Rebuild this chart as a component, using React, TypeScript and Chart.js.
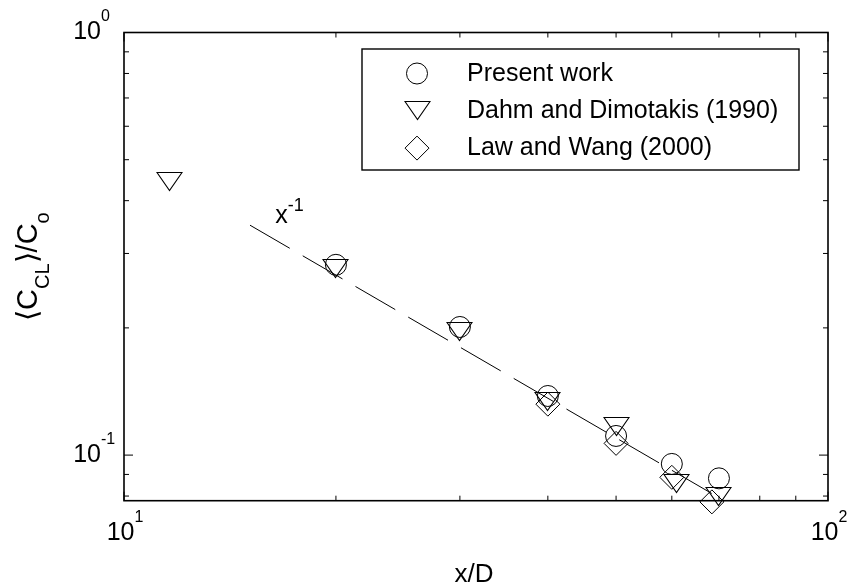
import { useEffect, useRef } from 'react';
import { Chart, registerables } from 'chart.js';

Chart.register(...registerables);

// Centre-line concentration decay along the jet axis
const presentX = [20, 30, 40, 50, 60, 70];
const presentY = [0.282, 0.201, 0.138, 0.111, 0.0953, 0.0881];

const dahmX = [11.6, 20, 30, 40, 50, 61, 70];
const dahmY = [0.444, 0.276, 0.196, 0.134, 0.117, 0.0858, 0.08];

const lawX = [40, 50, 60, 68.4];
const lawY = [0.132, 0.1066, 0.0886, 0.0775];

// x^-1 reference line end points
const fitX = [15.1, 70];
const fitY = [0.35, 0.0793];

const seriesLabels = ['Present work', 'Dahm and Dimotakis (1990)', 'Law and Wang (2000)'];

// axis limits and tick positions
const xLimits = [10, 100];
const yLimits = [0.078, 1];
const xTicks = [10, 20, 30, 40, 50, 60, 70, 80, 90, 100];
const yTicks = [0.08, 0.09, 0.1, 0.2, 0.3, 0.4, 0.5, 0.6, 0.7, 0.8, 0.9, 1];
const xTickLabels = [
  { value: 10, base: '10', exp: '1' },
  { value: 100, base: '10', exp: '2' },
];
const yTickLabels = [
  { value: 0.1, base: '10', exp: '-1' },
  { value: 1, base: '10', exp: '0' },
];

const slopeLabel = { x: 16.4, y: 0.354, base: 'x', exp: '-1' };

const FONT = '"Liberation Sans", Arial, Helvetica, sans-serif';
const INK = '#000';

// downward triangle marker, centred on its bounding box
function makeTriangle(): HTMLCanvasElement {
  const c = document.createElement('canvas');
  c.width = 27;
  c.height = 21;
  const g = c.getContext('2d')!;
  g.strokeStyle = INK;
  g.lineWidth = 1.1;
  g.beginPath();
  g.moveTo(1, 1.5);
  g.lineTo(26, 1.5);
  g.lineTo(13.5, 19.5);
  g.closePath();
  g.stroke();
  return c;
}

function drawMarker(ctx: CanvasRenderingContext2D, style: any, r: number, x: number, y: number) {
  ctx.save();
  ctx.strokeStyle = INK;
  ctx.lineWidth = 1;
  if (style instanceof HTMLCanvasElement) {
    ctx.imageSmoothingEnabled = false;
    ctx.drawImage(style, Math.round(x - style.width / 2), Math.round(y - style.height / 2));
  } else if (style === 'circle') {
    ctx.beginPath();
    ctx.arc(x, y, r, 0, Math.PI * 2);
    ctx.stroke();
  } else if (style === 'rectRot') {
    ctx.beginPath();
    ctx.moveTo(x - r, y);
    ctx.lineTo(x, y - r);
    ctx.lineTo(x + r, y);
    ctx.lineTo(x, y + r);
    ctx.closePath();
    ctx.stroke();
  }
  ctx.restore();
}

// base text followed by a raised exponent
function drawPower(
  ctx: CanvasRenderingContext2D,
  base: string,
  exp: string,
  x: number,
  y: number,
  align: 'left' | 'center' | 'right',
  baseSize: number,
  expSize: number,
  rise: number
) {
  ctx.font = `${baseSize}px ${FONT}`;
  const wb = ctx.measureText(base).width;
  ctx.font = `${expSize}px ${FONT}`;
  const we = ctx.measureText(exp).width;
  let x0 = x;
  if (align === 'center') x0 = x - (wb + we) / 2;
  if (align === 'right') x0 = x - wb;
  ctx.textAlign = 'left';
  ctx.textBaseline = 'alphabetic';
  ctx.font = `${baseSize}px ${FONT}`;
  ctx.fillText(base, x0, y);
  ctx.font = `${expSize}px ${FONT}`;
  ctx.fillText(exp, x0 + wb, y - rise);
}

const crispImages = {
  id: 'crispImages',
  beforeDatasetsDraw(chart: any) {
    chart.ctx.imageSmoothingEnabled = false;
  },
  afterDatasetsDraw(chart: any) {
    chart.ctx.imageSmoothingEnabled = true;
  },
};

const axesPlugin = {
  id: 'axesFrame',
  afterDraw(chart: any) {
    const { ctx, chartArea: a } = chart;
    const xs = chart.scales.x;
    const ys = chart.scales.y;
    ctx.save();
    ctx.fillStyle = INK;
    ctx.strokeStyle = INK;

    // inward tick marks on all four sides
    ctx.lineWidth = 1;
    ctx.beginPath();
    xs.ticks.forEach((t: any) => {
      const px = xs.getPixelForValue(t.value);
      const len = Number.isInteger(Math.log10(t.value)) ? 9 : 5;
      ctx.moveTo(px, a.bottom);
      ctx.lineTo(px, a.bottom - len);
      ctx.moveTo(px, a.top);
      ctx.lineTo(px, a.top + len);
    });
    ys.ticks.forEach((t: any) => {
      const py = ys.getPixelForValue(t.value);
      const len = Math.abs(Math.log10(t.value) - Math.round(Math.log10(t.value))) < 1e-9 ? 9 : 5;
      ctx.moveTo(a.left, py);
      ctx.lineTo(a.left + len, py);
      ctx.moveTo(a.right, py);
      ctx.lineTo(a.right - len, py);
    });
    ctx.stroke();

    // box
    ctx.lineWidth = 1.6;
    ctx.strokeRect(a.left, a.top, a.right - a.left, a.bottom - a.top);

    // tick labels
    xTickLabels.forEach((l) => {
      const px = xs.getPixelForValue(l.value);
      drawPower(ctx, l.base, l.exp, px + 1, a.bottom + 39.5, 'center', 25, 16, 18);
    });
    yTickLabels.forEach((l) => {
      const py = ys.getPixelForValue(l.value);
      drawPower(ctx, l.base, l.exp, a.left - 23, py + 6.5, 'right', 25, 16, 18);
    });

    // x axis title
    ctx.font = `26px ${FONT}`;
    ctx.textAlign = 'center';
    ctx.textBaseline = 'alphabetic';
    ctx.fillText('x/D', (a.left + a.right) / 2 - 2, a.bottom + 81);

    // y axis title: <C_CL>/C_o, rotated
    const parts = [
      { t: '\u27E8', s: 29, dy: 0 },
      { t: 'C', s: 29, dy: 0 },
      { t: 'CL', s: 20, dy: 12 },
      { t: '\u27E9', s: 29, dy: 0 },
      { t: '/', s: 29, dy: 0 },
      { t: 'C', s: 29, dy: 0 },
      { t: 'o', s: 20, dy: 12 },
    ];
    let total = 0;
    parts.forEach((p) => {
      ctx.font = `${p.s}px ${FONT}`;
      total += ctx.measureText(p.t).width;
    });
    ctx.save();
    ctx.translate(37, (a.top + a.bottom) / 2);
    ctx.rotate(-Math.PI / 2);
    ctx.textAlign = 'left';
    let cx = -total / 2;
    parts.forEach((p) => {
      ctx.font = `${p.s}px ${FONT}`;
      ctx.fillText(p.t, cx, p.dy);
      cx += ctx.measureText(p.t).width;
    });
    ctx.restore();

    // slope annotation
    drawPower(
      ctx,
      slopeLabel.base,
      slopeLabel.exp,
      xs.getPixelForValue(slopeLabel.x),
      ys.getPixelForValue(slopeLabel.y),
      'left',
      25,
      18,
      12
    );
    ctx.restore();
  },
};

const legendPlugin = {
  id: 'boxLegend',
  afterDraw(chart: any) {
    const { ctx, chartArea: a } = chart;
    const right = a.right - 29;
    const top = a.top + 16.5;
    const w = 437;
    const h = 121;
    const left = right - w;
    ctx.save();
    ctx.fillStyle = '#fff';
    ctx.fillRect(left, top, w, h);
    ctx.strokeStyle = INK;
    ctx.lineWidth = 1.4;
    ctx.strokeRect(left, top, w, h);
    const entries = chart.data.datasets.filter((d: any) => seriesLabels.includes(d.label));
    entries.forEach((d: any, i: number) => {
      const y = top + 24.5 + i * 37.3;
      drawMarker(ctx, d.pointStyle, d.pointRadius, left + 55, y);
      ctx.fillStyle = INK;
      ctx.font = `25px ${FONT}`;
      ctx.textAlign = 'left';
      ctx.textBaseline = 'alphabetic';
      ctx.fillText(d.label, left + 105, y + 7);
    });
    ctx.restore();
  },
};

const toPoints = (xs: number[], ys: number[]) => xs.map((x, i) => ({ x, y: ys[i] }));

export default function App() {
  const ref = useRef<HTMLCanvasElement | null>(null);

  useEffect(() => {
    if (!ref.current) return;
    const triangle = makeTriangle();
    const marker = {
      borderColor: INK,
      backgroundColor: 'rgba(0,0,0,0)',
      borderWidth: 1,
      clip: false as any,
    };
    const chart = new Chart(ref.current, {
      type: 'scatter',
      data: {
        datasets: [
          {
            label: 'x^-1',
            data: toPoints(fitX, fitY),
            showLine: true,
            borderColor: INK,
            borderWidth: 1,
            borderDash: [46, 15],
            pointRadius: 0,
            fill: false,
            clip: false as any,
          },
          {
            label: seriesLabels[0],
            data: toPoints(presentX, presentY),
            pointStyle: 'circle',
            pointRadius: 10.5,
            ...marker,
          },
          {
            label: seriesLabels[1],
            data: toPoints(dahmX, dahmY),
            pointStyle: triangle as any,
            pointRadius: 10,
            ...marker,
          },
          {
            label: seriesLabels[2],
            data: toPoints(lawX, lawY),
            pointStyle: 'rectRot',
            pointRadius: 12,
            ...marker,
          },
        ],
      },
      options: {
        responsive: false,
        animation: false,
        devicePixelRatio: 1,
        events: [],
        layout: { padding: { left: 124, top: 32.5, right: 20, bottom: 87.3 } },
        scales: {
          x: {
            type: 'logarithmic',
            min: xLimits[0],
            max: xLimits[1],
            display: false,
            afterBuildTicks: (s: any) => {
              s.ticks = xTicks.map((v) => ({ value: v }));
            },
          },
          y: {
            type: 'logarithmic',
            min: yLimits[0],
            max: yLimits[1],
            display: false,
            afterBuildTicks: (s: any) => {
              s.ticks = yTicks.map((v) => ({ value: v }));
            },
          },
        },
        plugins: { legend: { display: false }, tooltip: { enabled: false } },
      },
      plugins: [crispImages, axesPlugin, legendPlugin],
    });
    return () => chart.destroy();
  }, []);

  return (
    <div style={{ position: 'fixed', left: 0, top: 0, width: 848, height: 588, background: '#fff' }}>
      <canvas ref={ref} width={848} height={588} />
    </div>
  );
}
